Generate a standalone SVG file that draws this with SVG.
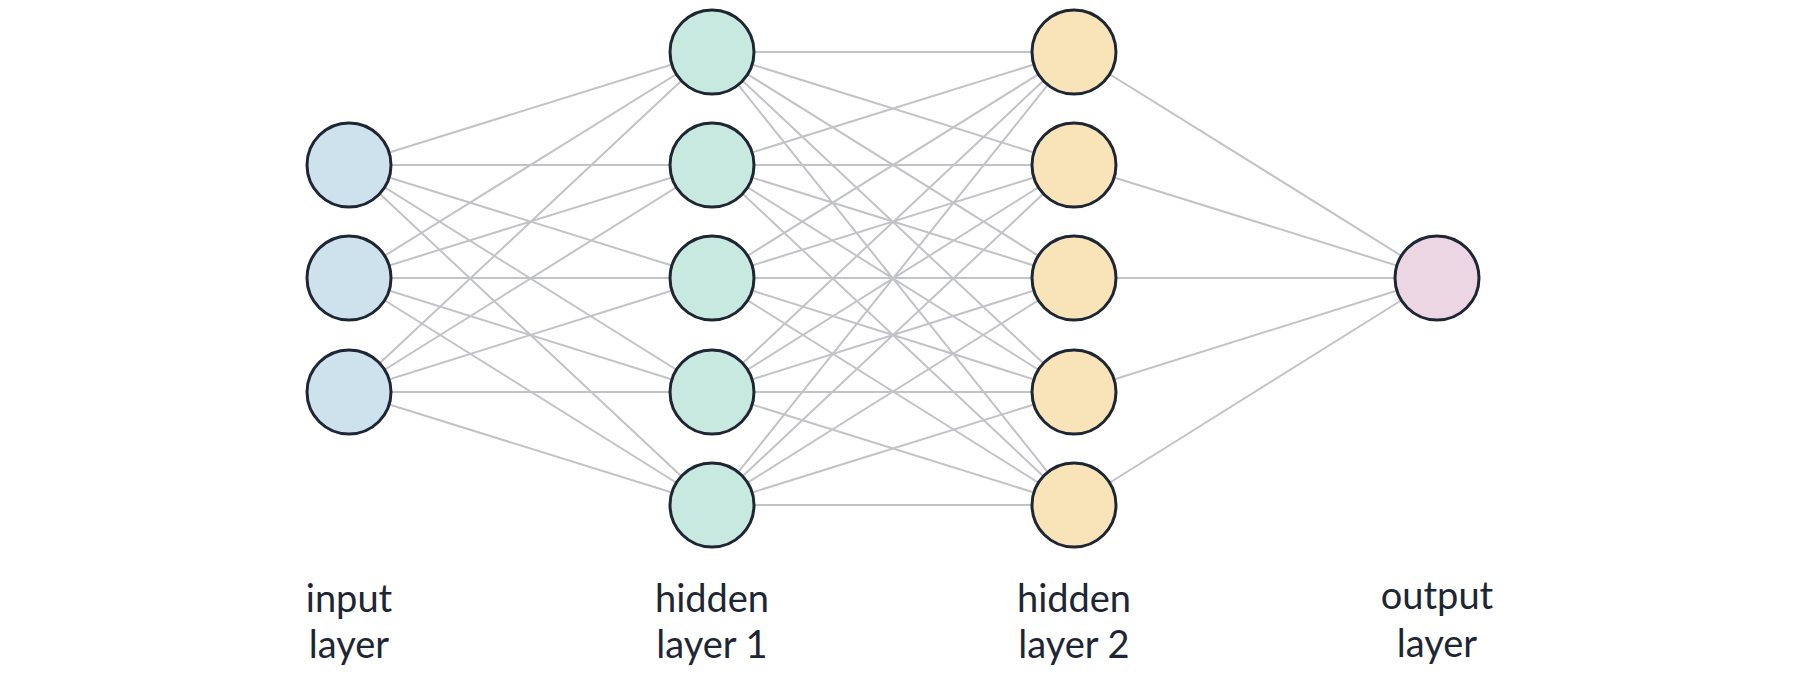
<svg xmlns="http://www.w3.org/2000/svg" width="1800" height="689" viewBox="0 0 1800 689">
<style>
.e{stroke:#c2c3c7;stroke-width:2;fill:none}
.n{stroke:#1e2633;stroke-width:3}
.in{fill:#cee2ee}.h1{fill:#c7e9df}.h2{fill:#f8e4b8}.out{fill:#ecd6e4}
.t{font-family:Lato,"DejaVu Sans",sans-serif;font-size:38px;fill:#1e2633;text-anchor:middle}
</style>
<rect width="1800" height="689" fill="#fff"/>
<g id="connectors" class="e">
<path d="M349 165L712 52M349 165L712 165M349 165L712 278M349 165L712 392M349 165L712 505M349 278L712 52M349 278L712 165M349 278L712 278M349 278L712 392M349 278L712 505M349 392L712 52M349 392L712 165M349 392L712 278M349 392L712 392M349 392L712 505"/>
<path d="M712 52L1074 52M712 52L1074 165M712 52L1074 278M712 52L1074 392M712 52L1074 505M712 165L1074 52M712 165L1074 165M712 165L1074 278M712 165L1074 392M712 165L1074 505M712 278L1074 52M712 278L1074 165M712 278L1074 278M712 278L1074 392M712 278L1074 505M712 392L1074 52M712 392L1074 165M712 392L1074 278M712 392L1074 392M712 392L1074 505M712 505L1074 52M712 505L1074 165M712 505L1074 278M712 505L1074 392M712 505L1074 505"/>
<path d="M1074 52L1437 278M1074 165L1437 278M1074 278L1437 278M1074 392L1437 278M1074 505L1437 278"/>
</g>
<g id="input-1"><circle class="n in" cx="349" cy="165" r="42"/></g>
<g id="input-2"><circle class="n in" cx="349" cy="278" r="42"/></g>
<g id="input-3"><circle class="n in" cx="349" cy="392" r="42"/></g>
<g id="hidden1-1"><circle class="n h1" cx="712" cy="52" r="42"/></g>
<g id="hidden1-2"><circle class="n h1" cx="712" cy="165" r="42"/></g>
<g id="hidden1-3"><circle class="n h1" cx="712" cy="278" r="42"/></g>
<g id="hidden1-4"><circle class="n h1" cx="712" cy="392" r="42"/></g>
<g id="hidden1-5"><circle class="n h1" cx="712" cy="505" r="42"/></g>
<g id="hidden2-1"><circle class="n h2" cx="1074" cy="52" r="42"/></g>
<g id="hidden2-2"><circle class="n h2" cx="1074" cy="165" r="42"/></g>
<g id="hidden2-3"><circle class="n h2" cx="1074" cy="278" r="42"/></g>
<g id="hidden2-4"><circle class="n h2" cx="1074" cy="392" r="42"/></g>
<g id="hidden2-5"><circle class="n h2" cx="1074" cy="505" r="42"/></g>
<g id="output-1"><circle class="n out" cx="1437" cy="278" r="42"/></g>
<g id="labels">
<text class="t" x="349" y="612">input</text>
<text class="t" x="349" y="658">layer</text>
<text class="t" x="712" y="612">hidden</text>
<text class="t" x="712" y="658">layer 1</text>
<text class="t" x="1074" y="612">hidden</text>
<text class="t" x="1074" y="658">layer 2</text>
<text class="t" x="1437" y="609">output</text>
<text class="t" x="1437" y="657">layer</text>
</g>
</svg>
